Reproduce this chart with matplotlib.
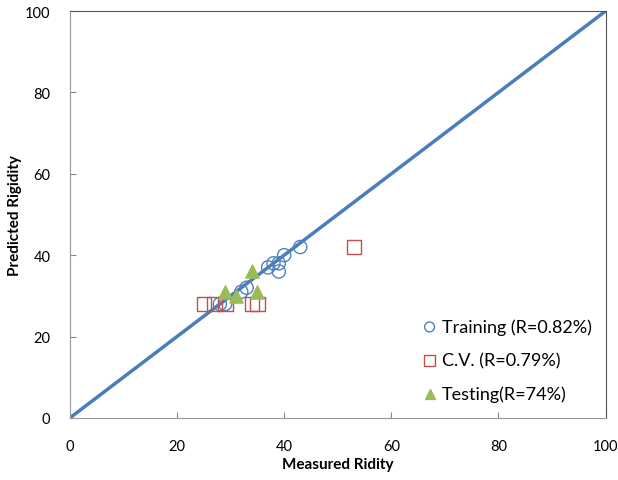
import matplotlib.pyplot as plt

train_x = [43, 40, 38, 37, 39, 39, 33, 32, 29, 28]
train_y = [42, 40, 38, 37, 38, 36, 32, 31, 28, 28]
cv_x = [25, 27, 29, 34, 35, 53]
cv_y = [28, 28, 28, 28, 28, 42]
test_x = [34, 29, 31, 35]
test_y = [36, 31, 30, 31]
line_vals = [0, 100]

plt.rcParams['font.family'] = ['Lato', 'DejaVu Sans']

fig = plt.figure(figsize=(6.18, 4.81), dpi=100)
ax = fig.add_axes([0.113, 0.129, 0.867, 0.846])

ax.plot(line_vals, line_vals, color='#4a7ebb', lw=2.5, zorder=2)
ax.scatter(train_x, train_y, s=90, facecolors='none', edgecolors='#4f81bd',
           linewidths=1.0, marker='o', label='Training (R=0.82%)', zorder=3)
ax.scatter(cv_x, cv_y, s=110, facecolors='none', edgecolors='#c0504d',
           linewidths=1.0, marker='s', label='C.V. (R=0.79%)', zorder=3)
ax.scatter(test_x, test_y, s=90, color='#9bbb59', marker='^',
           label='Testing(R=74%)', zorder=4)

ax.set_xlim(0, 100)
ax.set_ylim(0, 100)
ax.set_xticks(range(0, 101, 20))
ax.set_yticks(range(0, 101, 20))
ax.tick_params(direction='in', length=4, color='#888888', labelsize=10.5)
ax.tick_params(axis='x', pad=15)
ax.tick_params(axis='y', pad=14)
for s in ax.spines.values():
    s.set_color('#555555')
ax.spines['left'].set_color('#999999')
ax.spines['bottom'].set_color('#999999')

ax.set_xlabel('Measured Ridity', fontsize=11, fontweight='bold', labelpad=3)
ax.set_ylabel('Predicted Rigidity', fontsize=11, fontweight='bold', labelpad=2)

ax.legend(loc='lower right', frameon=False, fontsize=13, handletextpad=0.1,
          handlelength=1.2, labelspacing=0.95, bbox_to_anchor=(1.005, 0.0),
          markerscale=0.75)

fig.savefig('out.png', dpi=100)
